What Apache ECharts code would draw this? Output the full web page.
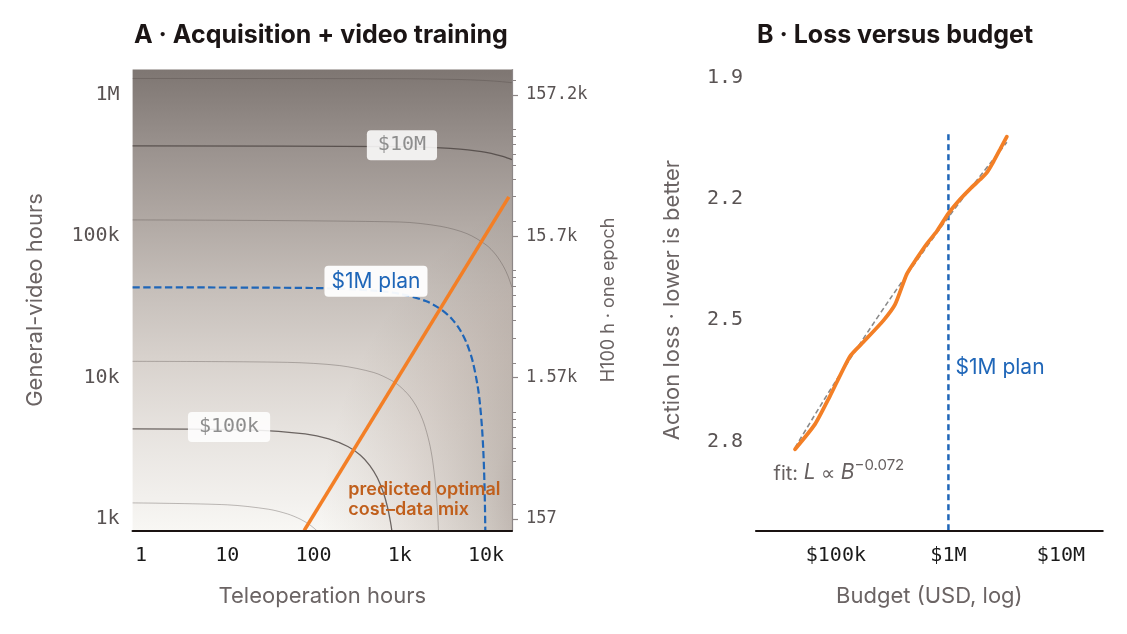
<!DOCTYPE html>
<html lang="en">
<head>
<meta charset="utf-8">
<title>Acquisition + video training / Loss versus budget</title>
<script src="https://cdn.jsdelivr.net/npm/echarts@6/dist/echarts.min.js"></script>
<style>
  html, body {margin: 0; padding: 0; background: #fff;}
  #chart {width: 1127px; height: 634px;}
</style>
</head>
<body>
<div id="chart"></div>
<script>
// Panel A: iso-cost contours as [teleop hours, general-video hours]
var contour30k = [[0.8, 1301], [10, 1261], [30, 1174], [50, 1087], [70, 1000], [90, 913], [109, 830]];
var contour100k = [[0.8, 4344], [20, 4261], [80, 4000], [150, 3696], [250, 3261], [350, 2826], [450, 2391],
    [550, 1957], [650, 1522], [720, 1217], [780, 957], [809, 830]];
var contour300k = [[0.8, 13040], [50, 12826], [200, 12174], [500, 10870], [800, 9565], [1000, 8696], [1300, 7391],
    [1600, 6087], [1900, 4783], [2200, 3478], [2400, 2609], [2600, 1739], [2700, 1304], [2780, 957], [2809, 830]];
var contour1M = [[0.8, 43475], [100, 43043], [500, 41304], [1000, 39130], [2000, 34783], [3000, 30435], [4000, 26087],
    [5000, 21739], [6000, 17391], [7000, 13043], [8000, 8696], [8500, 6522], [9000, 4348], [9300, 3043],
    [9500, 2174], [9700, 1304], [9809, 830]];
var contour3M = [[0.8, 130431], [1000, 126087], [3000, 117391], [6000, 104348], [10000, 86957], [13000, 73913],
    [16000, 60870], [18000, 52174], [20000, 43478]];
var contour10M = [[0.8, 434780], [1000, 430435], [3000, 421739], [5000, 413043], [8000, 400000], [10000, 391304],
    [13000, 378261], [16000, 365217], [20000, 347826]];
var contour30M = [[0.8, 1304344], [1000, 1300000], [5000, 1282609], [10000, 1260870], [15000, 1239130], [20000, 1217391]];
var optimalMix = [[78, 830], [18400, 190000]];

var contourLabels = [{name: '$10M', value: [1060, 440000]}, {name: '$100k', value: [10.5, 4470]}];
var planLabelA = [{name: '$1M plan', value: [530, 48000]}];
var mixLabel = [{name: 'predicted optimal\ncost\u2013data mix', value: [250, 1370]}];

// right axis of panel A: H100 hours for one epoch
var h100PerVideoHour = 0.1572;
var h100Values = [157.2, 1572, 15720, 157200];
var h100Labels = ['157', '1.57k', '15.7k', '157.2k'];
var h100Minor = [200, 300, 400, 500, 600, 700, 800, 900,
    2000, 3000, 4000, 5000, 6000, 7000, 8000, 9000,
    20000, 30000, 40000, 50000, 60000, 70000, 80000, 90000, 200000];

// Panel B: action loss against budget
var budgetUSD = [43350, 65300, 88800, 133700, 175500, 264000, 335800, 426600, 523600,
    642700, 788500, 1000000, 1270000, 1560000, 1914000, 2194000, 2512000, 2884000, 3305000];
var actionLoss = [2.819, 2.757, 2.687, 2.589, 2.554, 2.501, 2.461, 2.386, 2.347,
    2.311, 2.280, 2.236, 2.201, 2.175, 2.152, 2.135, 2.108, 2.077, 2.046];
var fitBudget = [43350, 100000, 300000, 1000000, 3305000];
var fitLoss = [2.815, 2.650, 2.449, 2.245, 2.060];
var planBudget = [1000000, 1000000];
var planLoss = [2.04, 3.02];
var lossTicks = [1.9, 2.2, 2.5, 2.8];
var planLabelB = [{name: '$1M plan', value: [1145000, 2.618]}];
var fitLabel = [{name: 'fit', value: [27600, 2.872]}];

var MONO = '"DejaVu Sans Mono", monospace';
var SANS = 'Inter, "Noto Sans", sans-serif';
var BLUE = '#1f66b8', ORANGE = '#f37f26';
var NAME_COLOR = '#6b6464';
var GA = {left: 132.6, top: 69.5, width: 379.4, height: 461};
var GB = {left: 756, top: 69.5, width: 346.7, height: 461};
var yMinA = 830, yMaxA = 1.51e6;

function kfmt(v) {
    v = Math.round(v);
    if (v >= 1e6) return v / 1e6 + 'M';
    if (v >= 1e3) return v / 1e3 + 'k';
    return String(v);
}

function zip(xs, ys) {
    return xs.map(function (x, i) { return [x, ys[i]]; });
}

function contour(data, dark) {
    return {
        type: 'line', xAxisIndex: 0, yAxisIndex: 0, data: data, smooth: 0.3,
        symbol: 'none', silent: true, z: 2,
        lineStyle: dark ? {color: 'rgba(72,64,62,0.78)', width: 1.3}
                        : {color: 'rgba(80,72,70,0.4)', width: 0.9}
    };
}

function textMarks(xi, yi, data, label) {
    return {
        type: 'scatter', xAxisIndex: xi, yAxisIndex: yi, data: data,
        symbolSize: 1, itemStyle: {color: 'transparent', opacity: 1}, silent: true, z: 6,
        label: Object.assign({show: true, formatter: '{b}'}, label)
    };
}

// shading: dark with video hours (top), plus extra shade toward high teleop hours (bottom right)
var vGrad = {type: 'linear', x: 0, y: 0, x2: 0, y2: 1, colorStops: [
    {offset: 0, color: '#7e7672'}, {offset: 0.17, color: '#9a928e'},
    {offset: 0.33, color: '#b1a9a4'}, {offset: 0.47, color: '#c5beb9'},
    {offset: 0.63, color: '#d8d2cd'}, {offset: 0.775, color: '#e6e2de'},
    {offset: 0.93, color: '#f2f0ed'}, {offset: 1, color: '#f8f7f4'}]};
var rGrad = {type: 'radial', x: 700, y: 530, r: 380, global: true, colorStops: [
    {offset: 0, color: '#c6beba'}, {offset: 0.495, color: '#c8c0bc'},
    {offset: 0.563, color: '#d5cfcb'}, {offset: 0.68, color: '#e4dfdc'},
    {offset: 0.79, color: '#f0ecea'}, {offset: 0.91, color: '#f9f8f7'},
    {offset: 1, color: '#ffffff'}]};

var chart = echarts.init(document.getElementById('chart'), null, {renderer: 'canvas'});

chart.setOption({
    animation: false,
    backgroundColor: '#ffffff',
    textStyle: {fontFamily: SANS},
    title: [
        {text: 'A \u00b7 Acquisition + video training', left: 134, top: 23, padding: 0,
         textStyle: {fontFamily: SANS, fontSize: 25, fontWeight: 700, color: '#1b1515'}},
        {text: 'B \u00b7 Loss versus budget', left: 757, top: 23, padding: 0,
         textStyle: {fontFamily: SANS, fontSize: 25, fontWeight: 700, color: '#1b1515'}}
    ],
    graphic: [
        {type: 'rect', silent: true, z: 0,
         shape: {x: GA.left, y: GA.top, width: GA.width, height: GA.height},
         style: {fill: vGrad}},
        {type: 'rect', silent: true, z: 1,
         shape: {x: GA.left, y: GA.top, width: GA.width, height: GA.height},
         style: {fill: rGrad, blend: 'multiply'}}
    ],
    grid: [
        Object.assign({outerBoundsMode: 'none'}, GA),
        Object.assign({outerBoundsMode: 'none'}, GB)
    ],
    xAxis: [
        {gridIndex: 0, type: 'log', logBase: 10, min: 0.8, max: 20000, z: 5,
         axisLine: {show: true, lineStyle: {color: '#1a1311', width: 2.2}},
         axisTick: {show: false}, splitLine: {show: false}, minorTick: {show: false},
         axisLabel: {fontFamily: MONO, fontSize: 20, color: '#1a1a1a', margin: 15,
                     showMinLabel: false, showMaxLabel: false, formatter: kfmt},
         name: 'Teleoperation hours', nameLocation: 'middle', nameGap: 55,
         nameTextStyle: {fontFamily: SANS, fontSize: 22, color: NAME_COLOR}},
        {gridIndex: 1, type: 'log', logBase: 10, min: 19500, max: 23500000, z: 5,
         axisLine: {show: true, lineStyle: {color: '#1a1311', width: 2.2}},
         axisTick: {show: false}, splitLine: {show: false}, minorTick: {show: false},
         axisLabel: {fontFamily: MONO, fontSize: 20, color: '#1a1a1a', margin: 15,
                     showMinLabel: false, showMaxLabel: false,
                     formatter: function (v) { return '$' + kfmt(v); }},
         name: 'Budget (USD, log)', nameLocation: 'middle', nameGap: 55,
         nameTextStyle: {fontFamily: SANS, fontSize: 22, color: NAME_COLOR}}
    ],
    yAxis: [
        {gridIndex: 0, type: 'log', logBase: 10, min: yMinA, max: yMaxA, z: 5,
         axisLine: {show: false}, axisTick: {show: false}, splitLine: {show: false},
         axisLabel: {fontFamily: MONO, fontSize: 20, color: '#595353', margin: 13,
                     showMinLabel: false, showMaxLabel: false, formatter: kfmt},
         name: 'General-video hours', nameLocation: 'middle', nameGap: 86, nameRotate: 90,
         nameTextStyle: {fontFamily: SANS, fontSize: 22, color: NAME_COLOR}},
        {gridIndex: 0, type: 'value', position: 'right', z: 5,
         min: Math.log10(yMinA * h100PerVideoHour), max: Math.log10(yMaxA * h100PerVideoHour),
         axisLine: {show: true, lineStyle: {color: '#8c8686', width: 1.2}},
         axisTick: {show: true, length: 6, lineStyle: {color: '#8c8686', width: 1.2},
                    customValues: h100Values.map(Math.log10)},
         splitLine: {show: false},
         axisLabel: {fontFamily: MONO, fontSize: 17, color: '#595353', margin: 14,
                     customValues: h100Values.map(Math.log10),
                     formatter: function (v) {
                         var best = 0;
                         h100Values.forEach(function (h, i) {
                             if (Math.abs(Math.log10(h) - v) < Math.abs(Math.log10(h100Values[best]) - v)) best = i;
                         });
                         return h100Labels[best];
                     }},
         name: 'H100 h \u00b7 one epoch', nameLocation: 'middle', nameGap: 88, nameRotate: 90,
         nameTextStyle: {fontFamily: SANS, fontSize: 18, color: NAME_COLOR}},
        {gridIndex: 0, type: 'value', position: 'right', z: 5,
         min: Math.log10(yMinA * h100PerVideoHour), max: Math.log10(yMaxA * h100PerVideoHour),
         axisLine: {show: false},
         axisTick: {show: true, length: 4, lineStyle: {color: '#8c8686', width: 1},
                    customValues: h100Minor.map(Math.log10)},
         splitLine: {show: false}, axisLabel: {show: false}},
        {gridIndex: 1, type: 'value', inverse: true, min: 1.88, max: 3.02,
         axisLine: {show: false}, axisTick: {show: false}, splitLine: {show: false},
         axisLabel: {fontFamily: MONO, fontSize: 20, color: '#595353', margin: 13,
                     customValues: lossTicks,
                     formatter: function (v) { return v.toFixed(1); }},
         name: 'Action loss \u00b7 lower is better', nameLocation: 'middle', nameGap: 73, nameRotate: 90,
         nameTextStyle: {fontFamily: SANS, fontSize: 22, color: NAME_COLOR}}
    ],
    series: [
        contour(contour30k, false),
        contour(contour100k, true),
        contour(contour300k, false),
        contour(contour3M, false),
        contour(contour10M, true),
        contour(contour30M, false),
        {type: 'line', xAxisIndex: 0, yAxisIndex: 0, data: contour1M, smooth: 0.3,
         symbol: 'none', silent: true, z: 3,
         lineStyle: {color: BLUE, width: 2.2, type: [7.4, 3.4]}},
        {type: 'line', xAxisIndex: 0, yAxisIndex: 0, data: optimalMix,
         symbol: 'none', silent: true, z: 4,
         lineStyle: {color: ORANGE, width: 3.5}},
        textMarks(0, 0, contourLabels, {
            position: 'inside', fontFamily: MONO, fontSize: 20, color: '#8e8e8e', lineHeight: 22,
            backgroundColor: 'rgba(255,255,255,0.86)', borderRadius: 4, padding: [4, 11, 4, 11]}),
        textMarks(0, 0, planLabelA, {
            position: 'inside', fontFamily: SANS, fontSize: 21, color: BLUE, lineHeight: 23,
            backgroundColor: 'rgba(255,255,255,0.94)', borderRadius: 4, padding: [4, 7, 4, 7]}),
        textMarks(0, 0, mixLabel, {
            position: 'right', distance: 0, align: 'left', fontFamily: SANS, fontSize: 18,
            fontWeight: 600, lineHeight: 20, color: '#c05f1c'}),

        {type: 'line', xAxisIndex: 1, yAxisIndex: 3, data: zip(planBudget, planLoss),
         symbol: 'none', silent: true, z: 2,
         lineStyle: {color: BLUE, width: 2.5, type: [6, 4]}},
        {type: 'line', xAxisIndex: 1, yAxisIndex: 3, data: zip(fitBudget, fitLoss), smooth: 0.3,
         symbol: 'none', silent: true, z: 2,
         lineStyle: {color: '#8a8a8a', width: 1.6, type: [5, 3]}},
        {type: 'line', xAxisIndex: 1, yAxisIndex: 3, data: zip(budgetUSD, actionLoss), smooth: 0.2,
         symbol: 'none', silent: true, z: 3,
         lineStyle: {color: ORANGE, width: 3.8, cap: 'round'}},
        textMarks(1, 3, planLabelB, {
            position: 'right', distance: 0, fontFamily: SANS, fontSize: 21, color: BLUE}),
        textMarks(1, 3, fitLabel, {
            position: 'right', distance: 0,
            formatter: '{t|fit: }{i|L}{t| \u221d }{i|B}{s|\u22120.072}',
            rich: {
                t: {fontFamily: SANS, fontSize: 20, color: '#666060', lineHeight: 26, verticalAlign: 'bottom'},
                i: {fontFamily: SANS, fontSize: 21, fontStyle: 'italic', color: '#666060', lineHeight: 26, verticalAlign: 'bottom'},
                s: {fontFamily: SANS, fontSize: 15, color: '#666060', lineHeight: 16, verticalAlign: 'top'}
            }})
    ]
});
</script>
</body>
</html>
